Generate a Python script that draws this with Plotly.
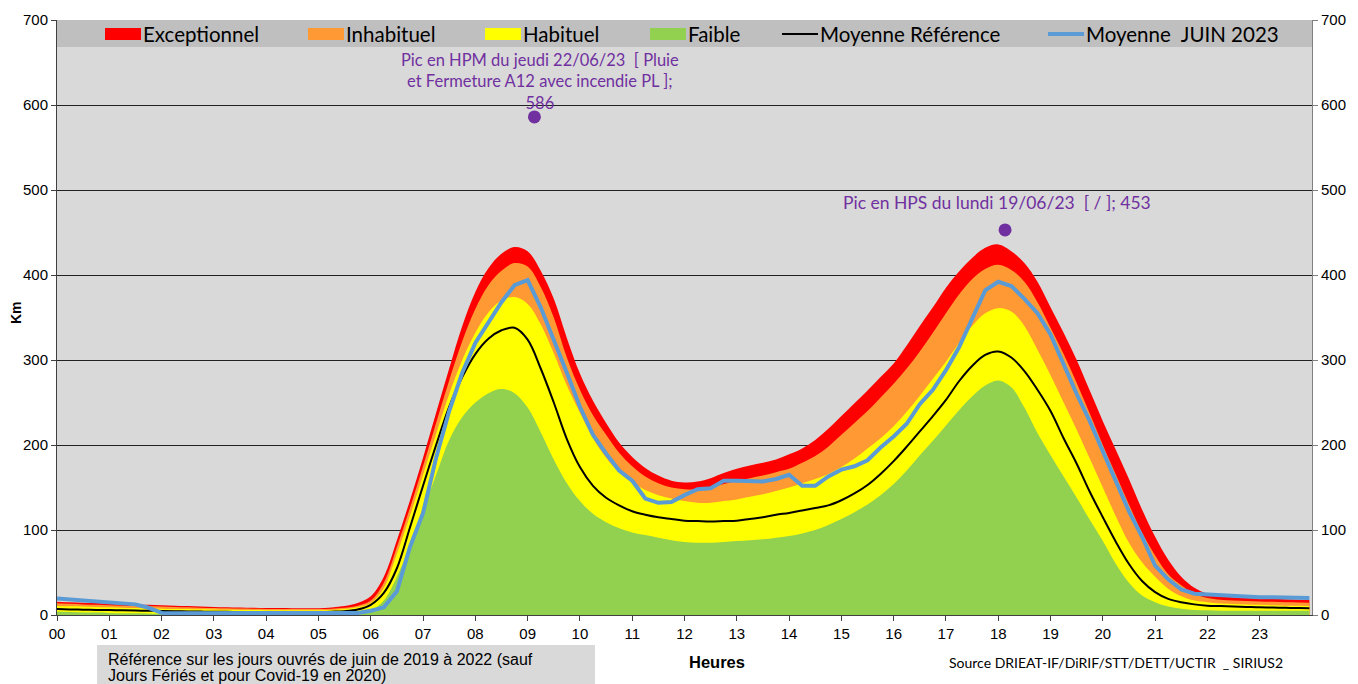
import plotly.graph_objects as go

# ---------------- data ----------------
hour_labels = ["%02d" % h for h in range(24)]

# quarter-hour time grid (hours), last sample just before midnight
hours = [i * 0.25 for i in range(96)] + [23.95]

exceptionnel = [15.7, 15.0, 14.5, 14.0, 13.5, 13.0, 12.5, 12.0, 11.5, 11.0, 10.5, 10.0, 9.5, 9.1, 8.8, 8.5,
                8.2, 8.1, 8.0, 8.0, 8.0, 8.8, 10.5, 14, 22, 45, 88, 135, 185, 238, 290, 340,
                380, 408, 425, 433, 428, 405, 372, 326, 284, 252, 226, 203, 186, 173, 164, 158,
                156, 157, 161, 167, 172, 176, 179, 183, 189, 196, 206, 219, 234, 249, 264, 280,
                296, 317, 340, 362, 385, 404, 420, 432, 436, 428, 414, 392, 362, 332, 300, 264,
                228, 194, 160, 124, 92, 65, 45, 32, 25, 22.5, 21, 20, 19.5, 19, 18.5, 18, 17.6]

inhabituel = [13.7, 13.1, 12.5, 12.0, 11.5, 11.0, 10.5, 10.2, 10.0, 9.5, 9.0, 8.6, 8.2, 7.9, 7.6, 7.4,
              7.2, 7.1, 7.0, 7.0, 7.0, 7.5, 8.5, 11, 17, 38, 80, 126, 175, 226, 276, 322,
              360, 388, 405, 414, 410, 386, 350, 303, 265, 235, 212, 191, 175, 163, 155, 150,
              148, 148, 150, 154, 158, 161, 164, 168, 172, 179, 187, 198, 212, 226, 240, 256,
              272, 290, 310, 332, 355, 377, 395, 407, 412, 406, 392, 368, 338, 307, 273, 237,
              200, 165, 130, 97, 70, 48, 35, 25, 20, 18, 17, 16.5, 16, 15.5, 15, 14.8, 14.5]

habituel = [10.6, 10.3, 10.0, 9.5, 9.0, 8.6, 8.2, 7.8, 7.5, 7.2, 7.0, 6.7, 6.5, 6.2, 6.0, 5.8,
            5.6, 5.5, 5.5, 5.5, 5.5, 6.0, 7.0, 9, 14, 32, 72, 117, 165, 213, 260, 300,
            332, 356, 370, 374, 366, 342, 308, 270, 238, 208, 185, 168, 156, 147, 141, 137,
            134, 132, 132, 134, 136, 139, 142, 146, 150, 155, 160, 166, 174, 184, 196, 208,
            222, 239, 258, 278, 298, 320, 340, 355, 361, 357, 340, 312, 282, 250, 218, 184,
            150, 116, 85, 62, 45, 31, 22, 17, 15, 13.5, 13, 12.5, 12, 11.5, 11, 10.8, 10.6]

faible = [4.0, 3.5, 3.0, 2.8, 2.5, 2.2, 2.0, 1.8, 1.5, 1.5, 1.5, 1.5, 1.5, 1.5, 1.5, 1.5,
          1.5, 1.5, 1.5, 1.5, 1.5, 1.5, 2.0, 3.0, 5, 17, 45, 82, 123, 165, 206, 233,
          250, 261, 266, 261, 244, 215, 183, 155, 134, 119, 109, 102, 97, 94, 91, 88,
          86, 85, 85, 86, 87, 88, 89, 91, 93, 96, 100, 106, 113, 121, 130, 141,
          154, 170, 188, 205, 223, 241, 257, 270, 276, 268, 244, 214, 188, 163, 138, 112,
          87, 60, 38, 23, 15, 10, 7.5, 6, 5.5, 5, 5, 5, 5, 5, 5, 5, 5]

moyenne_ref = [7.0, 6.6, 6.3, 6.0, 5.8, 5.5, 5.2, 5.0, 4.7, 4.4, 4.2, 4.0, 3.8, 3.7, 3.6, 3.5,
               3.5, 3.5, 3.5, 3.5, 3.6, 3.9, 4.5, 6.5, 12, 26, 55, 103, 152, 200, 245, 280,
               307, 325, 335, 338, 324, 290, 250, 207, 174, 152, 138, 129, 122, 118, 115, 113,
               111, 110.5, 110, 110.5, 111, 113, 115, 118, 120, 123, 126, 129, 135, 143, 153, 166,
               181, 198, 216, 234, 253, 275, 293, 306, 310, 303, 287, 265, 240, 208, 178, 145,
               115, 86, 60, 40, 27, 19, 15, 12.5, 11, 10.5, 10, 9.5, 9, 8.8, 8.5, 8.1, 7.8]

moyenne_juin = [19.5, 18.5, 17.5, 16.5, 15.5, 14.5, 12.5, 8.5, 2.5, 2, 2, 2, 2, 2, 2, 2,
                2, 2, 2, 2, 2, 2, 2, 2.5, 5, 9, 28, 80, 120, 185, 240, 285,
                320, 345, 368, 388, 394, 362, 325, 285, 245, 212, 190, 170, 158, 137, 132, 133,
                141, 148, 149, 158, 158, 157, 157, 160, 165, 152, 152, 163, 171, 175, 182, 197,
                210, 225, 248, 265, 288, 315, 348, 382, 392, 387, 372, 355, 330, 295, 260, 228,
                192, 158, 122, 92, 58, 42, 30, 25, 24, 23, 22, 21.5, 21, 21, 20.5, 20.5, 20]

peak_hours = [9.13, 18.13]
peak_values = [586, 453]
peak_text_hpm = "Pic en HPM du jeudi 22/06/23  [ Pluie<br>et Fermeture A12 avec incendie PL ];<br>586"
peak_text_hps = "Pic en HPS du lundi 19/06/23  [ / ]; 453"

legend_names = ["Exceptionnel", "Inhabituel", "Habituel", "Faible", "Moyenne Référence", "Moyenne  JUIN 2023"]
band_colors = ["#ff0000", "#ff9933", "#ffff00", "#92d050"]
ref_color = "#000000"
jun_color = "#5b9bd5"
purple = "#7030a0"

# ---------------- figure ----------------
SMOOTH = 1.0
fig = go.Figure()
bands = [exceptionnel, inhabituel, habituel, faible]
for name, vals, col in zip(legend_names[:4], bands, band_colors):
    fig.add_trace(go.Scatter(x=hours, y=vals, name=name, mode="lines",
                             line=dict(width=0, shape="spline", smoothing=SMOOTH, color=col),
                             fill="tozeroy", fillcolor=col, hoverinfo="x+y"))

fig.add_trace(go.Scatter(x=hours, y=moyenne_ref, name=legend_names[4], mode="lines",
                         line=dict(width=2, color=ref_color, shape="spline", smoothing=SMOOTH)))
fig.add_trace(go.Scatter(x=hours, y=moyenne_juin, name=legend_names[5], mode="lines",
                         line=dict(width=4, color=jun_color)))
fig.add_trace(go.Scatter(x=peak_hours, y=peak_values, mode="markers", yaxis="y2",
                         marker=dict(size=13, color=purple), showlegend=False))

# page is rendered with an 8px body margin -> figure is 8px smaller & shifted
W, H = 1350, 676
L, R, T, B = 49, 46, 12, 69
# page-pixel reference frame of the plot area
PX0, PX1, PY0, PY1 = 57, 1312, 20, 615


def px(x):
    return (x - PX0) / (PX1 - PX0)


def py(y):
    return (PY1 - y) / (PY1 - PY0)


tickfont = dict(family="Liberation Sans, Arial", size=15, color="#000")

fig.update_layout(
    width=W, height=H, autosize=False,
    margin=dict(l=L, r=R, t=T, b=B, autoexpand=False),
    paper_bgcolor="white", plot_bgcolor="#d9d9d9",
    showlegend=False,
    xaxis=dict(range=[0, 24], tickvals=list(range(24)), ticktext=hour_labels,
               ticks="outside", ticklen=5, tickcolor="#404040", showline=True,
               linecolor="#404040", linewidth=1, showgrid=False, zeroline=False,
               tickfont=tickfont, automargin=False),
    yaxis=dict(range=[0, 700], dtick=100, ticks="outside", ticklen=5, tickcolor="#404040",
               showline=True, linecolor="#404040", linewidth=1, showgrid=True,
               gridcolor="#222222", gridwidth=1, zeroline=False, tickfont=tickfont,
               automargin=False),
    yaxis2=dict(range=[0, 700], dtick=100, overlaying="y", side="right", ticks="outside",
                ticklen=5, tickcolor="#808080", showline=True, linecolor="#808080",
                showgrid=False, zeroline=False, tickfont=tickfont, automargin=False),
)

shapes = []
annotations = []
# legend band
shapes.append(dict(type="rect", xref="paper", yref="paper", x0=0, x1=1, y0=py(47), y1=1,
                   fillcolor="#bfbfbf", line=dict(width=0), layer="between"))
leg_x = [105, 308, 485, 650, 782, 1048]
legfont = dict(family="Lato", size=20.5, color="#000")
for i, name in enumerate(legend_names):
    x0 = leg_x[i]
    if i < 4:
        shapes.append(dict(type="rect", xref="paper", yref="paper", x0=px(x0), x1=px(x0 + 36),
                           y0=py(40), y1=py(28), fillcolor=band_colors[i], line=dict(width=0)))
    else:
        col = ref_color if i == 4 else jun_color
        wid = 2 if i == 4 else 4
        shapes.append(dict(type="line", xref="paper", yref="paper", x0=px(x0), x1=px(x0 + 36),
                           y0=py(34), y1=py(34), line=dict(color=col, width=wid)))
    annotations.append(dict(text=name, xref="paper", yref="paper", x=px(x0 + 36), y=py(34),
                            xanchor="left", yanchor="middle", showarrow=False, font=legfont))

# peak labels
annotations.append(dict(text=peak_text_hpm, xref="paper", yref="paper", x=px(540), y=py(82),
                        showarrow=False, xanchor="center", yanchor="middle", align="center",
                        font=dict(family="Lato", size=16.5, color=purple)))
annotations.append(dict(text=peak_text_hps, xref="paper", yref="paper", x=px(997), y=py(202),
                        showarrow=False, xanchor="center", yanchor="middle",
                        font=dict(family="Lato", size=17.5, color=purple)))

# axis titles
annotations.append(dict(text="<b>Heures</b>", xref="paper", yref="paper", x=px(717), y=py(662),
                        xanchor="center", yanchor="middle", showarrow=False,
                        font=dict(family="Liberation Sans, Arial", size=16.5, color="#000")))
annotations.append(dict(text="<b>Km</b>", xref="paper", yref="paper", x=px(16), y=py(313),
                        xanchor="center", yanchor="middle", showarrow=False, textangle=-90,
                        font=dict(family="Liberation Sans, Arial", size=14, color="#000")))

# bottom-left note box
shapes.append(dict(type="rect", xref="paper", yref="paper", x0=px(97), x1=px(595),
                   y0=py(684), y1=py(645), fillcolor="#d9d9d9", line=dict(width=0)))
note_lines = ["Référence sur les jours ouvrés de juin de 2019 à 2022 (sauf",
              "Jours Fériés et pour Covid-19 en 2020)"]
for k, line in enumerate(note_lines):
    annotations.append(dict(text=line, xref="paper", yref="paper", x=px(106), y=py(659 + 16 * k),
                            xanchor="left", yanchor="middle", align="left", showarrow=False,
                            font=dict(family="Liberation Sans, Arial", size=16, color="#000")))
# source
annotations.append(dict(text="Source DRIEAT-IF/DiRIF/STT/DETT/UCTIR  _ SIRIUS2", xref="paper", yref="paper",
                        x=px(947), y=py(662), xanchor="left", yanchor="middle", showarrow=False,
                        font=dict(family="Lato", size=14, color="#000")))

fig.update_layout(shapes=shapes, annotations=annotations)
fig.write_html("out.html")
